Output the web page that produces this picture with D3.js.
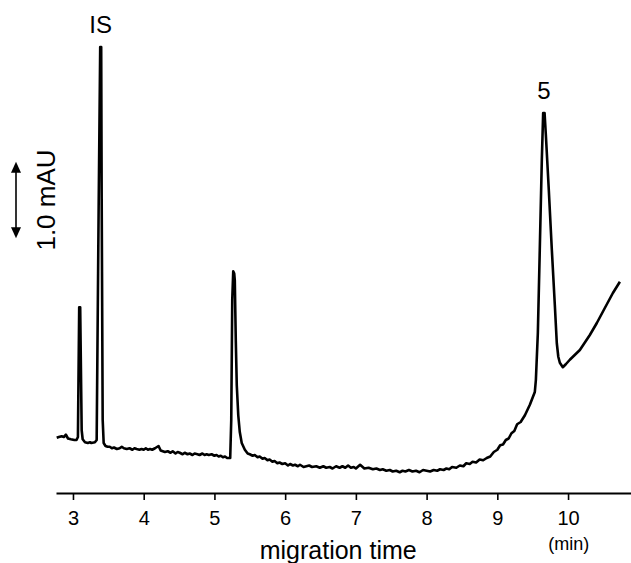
<!DOCTYPE html>
<html>
<head>
<meta charset="utf-8">
<script src="https://cdn.jsdelivr.net/npm/d3@7"></script>
<style>
  body { margin: 0; background: #fff; }
  svg { display: block; font-family: "Liberation Sans", Arial, sans-serif; }
</style>
</head>
<body>
<div id="chart_area"></div>
<script>
// migration time (min)
const times = [
  2.77, 2.80, 2.84, 2.87, 2.90, 2.93, 2.97, 3.02, 3.05, 3.07,
  3.088, 3.102, 3.123, 3.137, 3.17, 3.21, 3.24, 3.26, 3.31, 3.335,
  3.364, 3.385, 3.399, 3.406, 3.420, 3.434, 3.46, 3.49, 3.52, 3.55, 3.58, 3.62, 3.66,
  3.69, 3.72, 3.76, 3.80, 3.84, 3.87, 3.90, 3.94, 3.97, 4.00, 4.03, 4.06, 4.09, 4.12, 4.16, 4.21, 4.24,
  4.27, 4.30, 4.34, 4.38, 4.41, 4.45, 4.48, 4.51, 4.55, 4.58, 4.62, 4.65, 4.69, 4.72, 4.76, 4.79, 4.83, 4.86, 4.89, 4.92,
  4.96, 5.00, 5.03, 5.06, 5.09, 5.12, 5.15, 5.18, 5.223, 5.238, 5.252, 5.266, 5.28, 5.288,
  5.302, 5.316, 5.337, 5.358, 5.386, 5.43, 5.47, 5.50, 5.54, 5.57, 5.61, 5.64, 5.68, 5.71,
  5.75, 5.78, 5.82, 5.85, 5.89, 5.92, 5.96, 6.00, 6.04, 6.07, 6.11, 6.14, 6.18, 6.21, 6.26, 6.30, 6.34, 6.38, 6.44, 6.49,
  6.54, 6.58, 6.63, 6.67, 6.72, 6.77, 6.81, 6.85, 6.89, 6.93, 6.97, 7.00, 7.06, 7.12, 7.18, 7.24, 7.29, 7.34,
  7.38, 7.43, 7.48, 7.52, 7.57, 7.62, 7.66, 7.70, 7.75, 7.80, 7.85, 7.90, 7.95, 8.00, 8.05, 8.10, 8.15, 8.19, 8.24, 8.28,
  8.32, 8.36, 8.42, 8.47, 8.52, 8.56, 8.61, 8.65, 8.70, 8.75, 8.80, 8.85, 8.90, 8.95, 9.00, 9.04, 9.08, 9.12, 9.16, 9.20,
  9.24, 9.28, 9.33, 9.39, 9.46, 9.53, 9.545, 9.573, 9.60, 9.629, 9.648, 9.668,
  9.686, 9.728, 9.771, 9.813, 9.841, 9.862, 9.884, 9.926, 9.968, 10.025,
  10.167, 10.308, 10.407, 10.52, 10.634, 10.733
];
// absorbance (mAU, relative)
const absorbance = [
  0.43, 0.44, 0.45, 0.44, 0.47, 0.42, 0.41, 0.40, 0.40, 0.44,
  2.17, 2.17, 0.53, 0.41, 0.37, 0.36, 0.37, 0.36, 0.37, 0.40,
  3.60, 5.64, 5.64, 3.60, 0.67, 0.36, 0.32, 0.31, 0.31, 0.29, 0.30, 0.28, 0.29,
  0.31, 0.29, 0.28, 0.29, 0.27, 0.29, 0.28, 0.27, 0.28, 0.27, 0.29, 0.27, 0.28, 0.27, 0.29, 0.32, 0.26,
  0.25, 0.24, 0.25, 0.23, 0.25, 0.22, 0.24, 0.23, 0.21, 0.23, 0.21, 0.22, 0.20, 0.22, 0.21, 0.20, 0.22, 0.20, 0.21, 0.20,
  0.21, 0.19, 0.20, 0.18, 0.19, 0.17, 0.18, 0.16, 0.16, 0.67, 2.27, 2.65, 2.62, 2.53,
  1.73, 1.13, 0.73, 0.51, 0.36, 0.27, 0.22, 0.21, 0.19, 0.20, 0.17, 0.18, 0.15, 0.16,
  0.13, 0.14, 0.11, 0.12, 0.09, 0.10, 0.08, 0.09, 0.06, 0.08, 0.06, 0.07, 0.05, 0.07, 0.04, 0.05, 0.06, 0.04, 0.05, 0.03,
  0.05, 0.03, 0.04, 0.02, 0.05, 0.03, 0.05, 0.03, 0.06, 0.03, 0.04, 0.02, 0.07, 0.02, 0.03, 0.01, 0.02, 0.00,
  0.01, -0.01, 0.00, -0.02, -0.01, -0.03, -0.01, -0.02, 0.00, -0.02, -0.01, -0.03, 0.00, -0.01, -0.02, 0.00, -0.01, 0.01, 0.00, 0.02,
  0.01, 0.04, 0.03, 0.06, 0.05, 0.09, 0.08, 0.11, 0.10, 0.14, 0.13, 0.16, 0.18, 0.24, 0.27, 0.33, 0.34, 0.40, 0.42, 0.49,
  0.52, 0.61, 0.64, 0.73, 0.87, 1.04, 1.20, 1.83, 2.93, 4.13, 4.76, 4.76,
  4.47, 3.73, 2.93, 2.20, 1.69, 1.51, 1.43, 1.37, 1.41, 1.47,
  1.60, 1.80, 1.96, 2.16, 2.36, 2.51
];
const xTicks = [3, 4, 5, 6, 7, 8, 9, 10];
const peakNames = ["IS", "5"];
const peakTimes = [3.392, 9.658];
const peakHeights = [5.64, 4.76];

// set the dimensions and margins of the graph
var margin = {top: 20, right: 0, bottom: 93, left: 56},
    width = 631 - margin.left - margin.right,
    height = 563 - margin.top - margin.bottom;

const svg = d3.select("#chart_area")
  .append("svg")
  .attr("width", width + margin.left + margin.right)
  .attr("height", height + margin.top + margin.bottom)
  .append("g")
  .attr("transform", `translate(${margin.left}, ${margin.top})`);

// X scale
const x = d3.scaleLinear()
  .domain([2.76, 10.89])
  .range([0, width]);

// Y scale (75 px per mAU)
const y = d3.scaleLinear()
  .domain([0, 6])
  .range([450, 0]);

// Add X axis
const xAxis = svg.append("g")
  .attr("transform", `translate(0, ${y(-0.307)})`)
  .call(d3.axisBottom(x).tickValues(xTicks).tickSize(7).tickSizeOuter(0).tickPadding(11));
xAxis.select(".domain").attr("stroke", "#000").attr("stroke-width", 2);
xAxis.selectAll(".tick line").attr("stroke", "#000").attr("stroke-width", 1.6);
xAxis.selectAll(".tick text")
  .attr("font-size", 20)
  .attr("font-family", "'Liberation Sans', Arial, sans-serif")
  .attr("fill", "#000");

svg.append("text")
  .attr("x", x(6.75))
  .attr("y", 559 - margin.top)
  .attr("text-anchor", "middle")
  .attr("font-size", 25)
  .text("migration time");

svg.append("text")
  .attr("x", x(10.01))
  .attr("y", 550 - margin.top)
  .attr("text-anchor", "middle")
  .attr("font-size", 18)
  .text("(min)");

// trace
const pts = times.map((t, i) => [t, absorbance[i]]);
svg.append("path")
  .datum(pts)
  .attr("fill", "none")
  .attr("stroke", "#000")
  .attr("stroke-width", 2.6)
  .attr("stroke-linejoin", "round")
  .attr("d", d3.line().x(d => x(d[0])).y(d => y(d[1])));

// peak labels
svg.selectAll(".peaklabel")
  .data(peakNames)
  .join("text")
  .attr("class", "peaklabel")
  .attr("x", (d, i) => x(peakTimes[i]))
  .attr("y", (d, i) => y(peakHeights[i]) - 14)
  .attr("text-anchor", "middle")
  .attr("font-size", 24)
  .text(d => d);

// scale bar 1.0 mAU
const barX = 16 - margin.left;
const barTop = y(4.11), barBot = y(3.09);
svg.append("line")
  .attr("x1", barX).attr("x2", barX)
  .attr("y1", barTop + 6).attr("y2", barBot - 6)
  .attr("stroke", "#000").attr("stroke-width", 1.6);
svg.append("path")
  .attr("d", `M${barX},${barTop} L${barX - 5},${barTop + 11} L${barX + 5},${barTop + 11} Z`)
  .attr("fill", "#000");
svg.append("path")
  .attr("d", `M${barX},${barBot} L${barX - 5},${barBot - 11} L${barX + 5},${barBot - 11} Z`)
  .attr("fill", "#000");
svg.append("text")
  .attr("transform", `translate(${55 - margin.left}, ${y(3.6)}) rotate(-90)`)
  .attr("text-anchor", "middle")
  .attr("font-size", 26)
  .text("1.0 mAU");
</script>
</body>
</html>
